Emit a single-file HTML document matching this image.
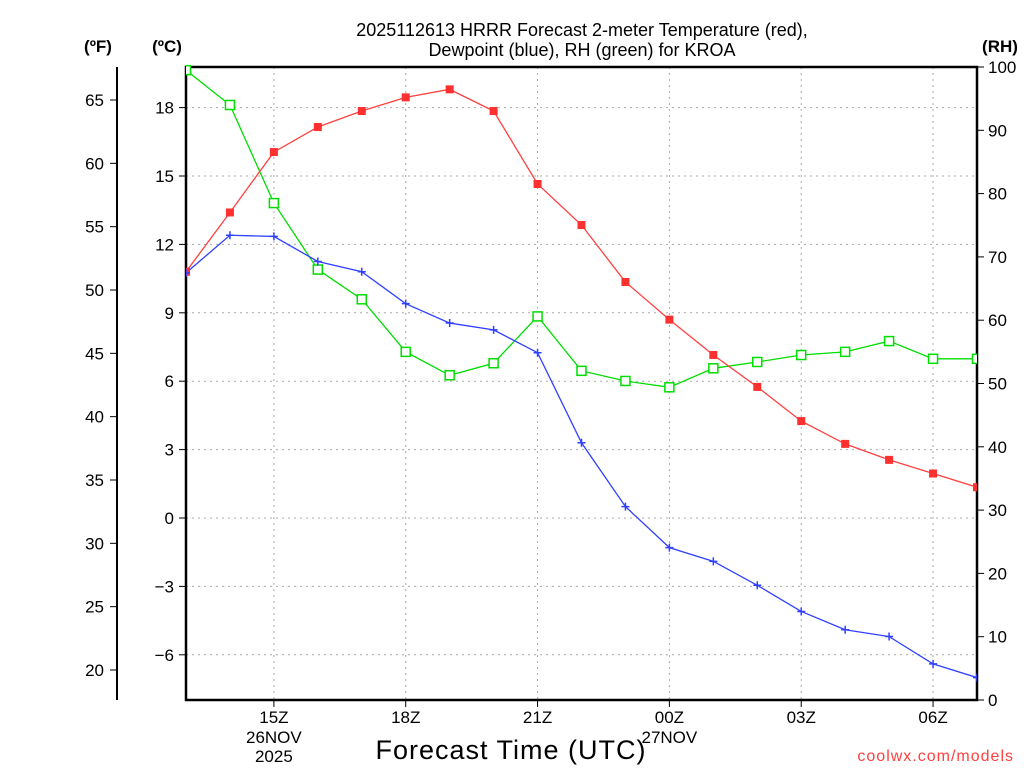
<!DOCTYPE html>
<html><head><meta charset="utf-8"><style>
html,body{margin:0;padding:0;background:#fff;}
svg{display:block;font-family:"Liberation Sans",sans-serif;}
</style></head><body>
<svg id="chart" width="1024" height="768" viewBox="0 0 1024 768" xmlns="http://www.w3.org/2000/svg">
<g font-size="18" text-anchor="middle" fill="#000">
<text x="582" y="36">2025112613 HRRR Forecast 2-meter Temperature (red),</text>
<text x="582" y="56">Dewpoint (blue), RH (green) for KROA</text>
</g>
<text x="98" y="52" font-size="17" font-weight="bold" text-anchor="middle">(ºF)</text>
<text x="167" y="52" font-size="17" font-weight="bold" text-anchor="middle">(ºC)</text>
<text x="1000" y="52" font-size="17" font-weight="bold" text-anchor="middle">(RH)</text>
<text x="511" y="759" font-size="27" text-anchor="middle" letter-spacing="1">Forecast Time (UTC)</text>
<text x="1014" y="761" font-size="16" fill="#ff4040" text-anchor="end" letter-spacing="1">coolwx.com/models</text>
<g id="grid"></g>
<g id="axes"></g>
<g id="series"></g>
</svg>
<script>
const hours = [13,14,15,16,17,18,19,20,21,22,23,24,25,26,27,28,29,30,31];
const tempC = [10.8,13.4,16.05,17.15,17.85,18.45,18.8,17.85,14.65,12.85,10.35,8.7,7.15,5.75,4.25,3.25,2.55,1.95,1.35];
const dewC = [10.75,12.4,12.35,11.25,10.8,9.4,8.55,8.25,7.25,3.3,0.5,-1.3,-1.9,-2.95,-4.1,-4.9,-5.2,-6.4,-7.0];
const rh = [99.5,94,78.5,68,63.3,55,51.3,53.2,60.6,52,50.4,49.4,52.4,53.4,54.5,55,56.7,53.9,53.9];
const cTicks = [-6,-3,0,3,6,9,12,15,18];
const fTicks = [20,25,30,35,40,45,50,55,60,65];
const rhTicks = [0,10,20,30,40,50,60,70,80,90,100];
const xTickHours = [15,18,21,24,27,30];
const xTickLabels = ["15Z","18Z","21Z","00Z","03Z","06Z"];
const xTickSub = [["26NOV","2025"],[],[],["27NOV"],[],[]];

const L=186,R=977,T=67,B=700;
const xS=h=>L+(h-13)*(R-L)/18;
const cS=c=>518-c*22.8;
const fS=f=>cS((f-32)/1.8);
const rS=r=>B-r*(B-T)/100;
const NS="http://www.w3.org/2000/svg";
function mk(tag,attrs,parent,text){const e=document.createElementNS(NS,tag);for(const k in attrs)e.setAttribute(k,attrs[k]);if(text!==undefined)e.textContent=text;parent.appendChild(e);return e;}
const grid=document.getElementById('grid'),axes=document.getElementById('axes'),series=document.getElementById('series');

cTicks.forEach(c=>{const y=cS(c);
 const g=mk('line',{x1:L,x2:R,y1:y,y2:y,stroke:'#aaa','stroke-dasharray':'2,4'},grid);
 
 
 mk('line',{x1:L-7,x2:L,y1:y,y2:y,stroke:'#000'},axes);
 const t=mk('text',{x:L-12,y:y+6,'font-size':17,'text-anchor':'end'},axes,c<0?'\u2212'+(-c):String(c));
 
 
});
fTicks.forEach(f=>{const y=fS(f);
 mk('line',{x1:110,x2:117,y1:y,y2:y,stroke:'#000'},axes);
 const t=mk('text',{x:104,y:y+6,'font-size':17,'text-anchor':'end'},axes,String(f));
 
 
});
rhTicks.forEach(r=>{const y=rS(r);
 mk('line',{x1:R,x2:R+7,y1:y,y2:y,stroke:'#000'},axes);
 const t=mk('text',{x:R+11,y:y+6,'font-size':17},axes,String(r));
 
 
});
xTickHours.forEach((h,i)=>{const x=xS(h);
 const g=mk('line',{x1:x,x2:x,y1:T,y2:B,stroke:'#aaa','stroke-dasharray':'2,4'},grid);
 
 
 mk('line',{x1:x,x2:x,y1:B,y2:B+7,stroke:'#000'},axes);
 const t=mk('text',{x:x,y:723,'font-size':17,'text-anchor':'middle'},axes,xTickLabels[i]);
 
 
 xTickSub[i].forEach((s,j)=>{const u=mk('text',{x:x,y:743+j*19,'font-size':17,'text-anchor':'middle'},axes,s);
  
  });
});
mk('line',{x1:117,x2:117,y1:T,y2:B,stroke:'#000','stroke-width':2},axes);
const fr=mk('rect',{x:L,y:T,width:R-L,height:B-T,fill:'none',stroke:'#000','stroke-width':2.5},axes);



const clip=mk('clipPath',{id:'pc'},series);mk('rect',{x:L,y:T-6,width:R-L,height:B-T+12},clip);
const sg=mk('g',{'clip-path':'url(#pc)'},series);

function line(vals,ys,color,name){
 const p=mk('polyline',{points:vals.map((v,i)=>xS(hours[i])+','+ys(v)).join(' '),fill:'none',stroke:color,'stroke-width':1.3},sg);
 
 
}
line(rh,rS,'#00dd00','rh');
line(tempC,cS,'#ff4040','temperature');
line(dewC,cS,'#3040ff','dewpoint');
rh.forEach((v,i)=>{const m=mk('rect',{x:xS(hours[i])-4.5,y:rS(v)-4.5,width:9,height:9,fill:'#fff',stroke:'#00dd00','stroke-width':1.5},sg);
 
 });
tempC.forEach((v,i)=>{const m=mk('rect',{x:xS(hours[i])-4,y:cS(v)-4,width:8,height:8,fill:'#ff3030'},sg);
 
 });
dewC.forEach((v,i)=>{const x=xS(hours[i]),y=cS(v);
 const m=mk('path',{d:`M${x-4},${y}H${x+4}M${x},${y-4}V${y+4}`,stroke:'#3040ff','stroke-width':1.5},sg);
 
 });
</script>
</body></html>
